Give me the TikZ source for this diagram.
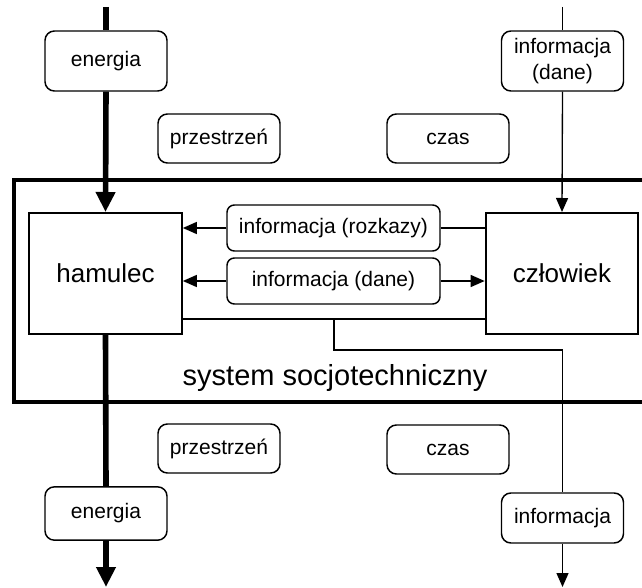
\documentclass[tikz,border=0pt]{standalone}
\usepackage{fontspec}
\setmainfont{Liberation Sans}
\usetikzlibrary{arrows.meta}
\begin{document}
\begin{tikzpicture}[x=0.75pt,y=-0.75pt,
  tag/.style={draw,line width=1.1pt,rounded corners=7pt,align=center,
    font=\fontsize{15.75}{19.5}\selectfont,inner sep=0pt,
    minimum width=91.5pt},
  midtag/.style={tag,rounded corners=5.5pt,minimum width=159.75pt,minimum height=34.5pt},
  unit/.style={draw,line width=1.5pt,inner sep=0pt,minimum width=114.5pt,
    minimum height=90.75pt,font=\fontsize{19.5}{23}\selectfont},
  frame/.style={line width=3.4pt},
  flow/.style={line width=4.2pt},
  flowtip/.style={-{Triangle[length=15pt,width=14pt]}},
  info/.style={line width=1pt},
  infotip/.style={-{Triangle[length=10.5pt,width=9pt]}}]
\useasboundingbox (0,0) rectangle (642,588);
\clip (0,0) rectangle (642,588);

% system boundary
\draw[frame] (14,180) rectangle (680,402);
\node[font=\fontsize{21.75}{26}\selectfont] (sys) at (335,378) {system socjotechniczny};

% inputs
\node[tag,minimum height=45pt] (en1) at (106,61) {energia};
\node[tag,minimum height=45pt] (inf1) at (562.5,61) {informacja\\(dane)};
\node[tag,minimum height=36.75pt] (prz1) at (219,138.5) {przestrzeń};
\node[tag,minimum height=36.75pt] (cz1) at (448,138.5) {czas};

% components of the system
\node[unit] (ham) at (105.5,273.5) {hamulec};
\node[unit] (czl) at (562,273.5) {człowiek};
\node[midtag] (roz) at (333.5,228) {informacja (rozkazy)};
\node[midtag] (dan) at (333.5,281) {informacja (dane)};

% outputs
\node[tag,minimum height=36.75pt] (prz2) at (219,448.5) {przestrzeń};
\node[tag,minimum height=36.75pt] (cz2) at (448,449.5) {czas};
\node[tag,minimum height=40pt] (en2) at (106,513.5) {energia};
\node[tag,minimum height=37.5pt] (inf2) at (562.5,518) {informacja};

\coordinate (entop) at (106,7);
\coordinate (enbot) at (106,587);
\coordinate (inftop) at (562.5,7);
\coordinate (infbot) at (562.5,587);
\coordinate (jn) at (334,319);
\coordinate (bend) at (334,350);

% energy flow
\draw[flow] (entop) -- (en1.north);
\draw[flow,flowtip] (en1.south) -- (ham.north);
\draw[flow] (ham.south) -- (en2.north);
\draw[flow,flowtip] (en2.south) -- (enbot);

% information flow
\draw[info] (inftop) -- (inf1.north);
\draw[info,infotip] (inf1.south) -- (czl.north);
\draw[info] (roz.east) -- (roz.east -| czl.west);
\draw[info,infotip] (roz.west) -- (roz.west -| ham.east);
\draw[info,infotip] (dan.west) -- (dan.west -| ham.east);
\draw[info,infotip] (dan.east) -- (dan.east -| czl.west);
\draw[info] (jn -| ham.east) -- (jn -| czl.west);
\draw[info] (jn) -- (bend) -| (inf2.north);
\draw[info,infotip] (inf2.south) -- (infbot);
\end{tikzpicture}
\end{document}
